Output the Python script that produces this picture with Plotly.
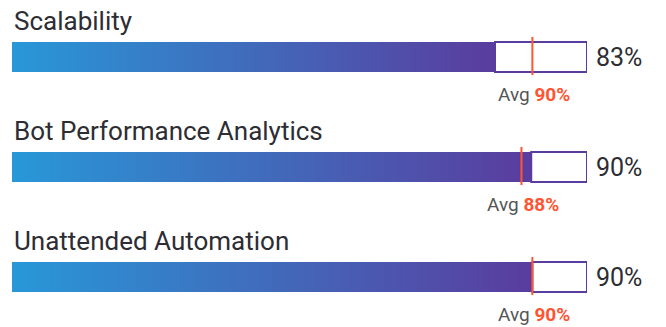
import plotly.graph_objects as go

categories = ["Scalability", "Bot Performance Analytics", "Unattended Automation"]
scores = [84, 90.3, 90.5]
score_labels = ["83%", "90%", "90%"]
averages = [90.5, 88.6, 90.5]
avg_labels = ["90%", "88%", "90%"]

W, H = 666, 327
ROW = 110.0          # pixels per category row
TOP = 57.0           # pixel centre of first bar
HALF = 15.0 / ROW    # half bar height in y units

BLUE = "#2898d8"
PURPLE = "#5a3c9e"
ORANGE = "#ff5533"
TEXT = "#2d2d33"
FONT = "Roboto"

fig = go.Figure()
shapes = []
annotations = []

for i, (cat, v, vl, a, al) in enumerate(zip(categories, scores, score_labels, averages, avg_labels)):
    # empty remainder box
    shapes.append(dict(type="rect", xref="x", yref="y", x0=v, x1=100,
                       y0=i - HALF, y1=i + HALF,
                       line=dict(color=PURPLE, width=2), fillcolor="white", layer="below"))
    # gradient filled bar
    fig.add_trace(go.Scatter(
        x=[0, v, v, 0, 0], y=[i - HALF, i - HALF, i + HALF, i + HALF, i - HALF],
        mode="lines", line=dict(width=0), fill="toself",
        fillgradient=dict(type="horizontal", colorscale=[[0, BLUE], [1, PURPLE]]),
        hoverinfo="skip", showlegend=False))
    # average marker
    fig.add_trace(go.Scatter(
        x=[a, a], y=[i - HALF - 5 / ROW, i + HALF + 3 / ROW],
        mode="lines", line=dict(color=ORANGE, width=2),
        hoverinfo="skip", showlegend=False))
    # category title
    annotations.append(dict(x=0, y=i - 36 / ROW, xref="x", yref="y", text=cat,
                            showarrow=False, xanchor="left", yanchor="middle",
                            font=dict(family=FONT, size=26, color=TEXT)))
    # value label
    annotations.append(dict(x=100, y=i, xref="x", yref="y", text=vl,
                            showarrow=False, xanchor="left", yanchor="middle", xshift=7,
                            font=dict(family=FONT, size=25, color=TEXT)))
    # average label
    annotations.append(dict(x=a, y=i + 37 / ROW, xref="x", yref="y",
                            text=f"Avg <b><span style='color:{ORANGE}'>{al}</span></b>",
                            showarrow=False, xanchor="center", yanchor="middle", xshift=2,
                            font=dict(family=FONT, size=19, color="#555555")))

fig.update_layout(
    width=W, height=H,
    margin=dict(l=12, r=79, t=0, b=0),
    paper_bgcolor="white", plot_bgcolor="white",
    xaxis=dict(range=[0, 100], visible=False, fixedrange=True),
    yaxis=dict(range=[(H - TOP) / ROW, -TOP / ROW], visible=False, fixedrange=True),
    shapes=shapes, annotations=annotations, showlegend=False,
)

fig.write_html("out.html", config={"displayModeBar": False},
               post_script="document.body.style.margin='0';document.body.style.overflow='hidden';")
